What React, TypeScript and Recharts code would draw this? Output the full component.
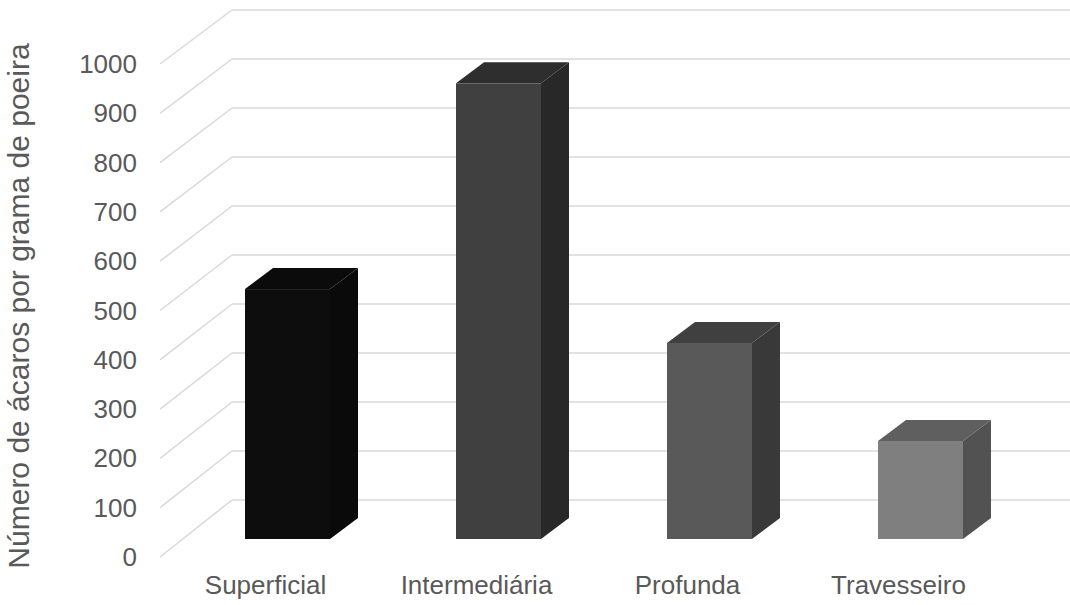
import React from 'react';
import { BarChart, Bar, XAxis, YAxis, CartesianGrid } from 'recharts';

const categories = ['Superficial', 'Intermediária', 'Profunda', 'Travesseiro'];
const values = [510, 930, 400, 200];
const yTicks = [0, 100, 200, 300, 400, 500, 600, 700, 800, 900, 1000];
const yTitle = 'Número de ácaros por grama de poeira';

const frontColors = ['#0d0d0d', '#404040', '#595959', '#7f7f7f'];
const sideColors = ['#0a0a0a', '#282828', '#393939', '#525252'];
const topColors = ['#0b0b0b', '#2e2e2e', '#404040', '#5f5f5f'];

const data = categories.map((name, i) => ({ name, value: values[i] }));

const W = 1070;
const H = 605;
const PLOT_TOP = 49;
const PLOT_BOTTOM = 539;
const DX = 28;
const DY = 21;
const FRONT_SHIFT = 18;
const BACK_SHIFT = 39;
const GRID = '#d9d9d9';
const TEXT = '#595959';
const FONT = '"Liberation Sans", Arial, sans-serif';

const Box = (props: any) => {
  const { x, y, width, height, index } = props;
  const i = index ?? 0;
  return (
    <g>
      <polygon
        points={`${x},${y} ${x + DX},${y - DY} ${x + width + DX},${y - DY} ${x + width},${y}`}
        fill={topColors[i]}
      />
      <polygon
        points={`${x + width},${y} ${x + width + DX},${y - DY} ${x + width + DX},${y + height - DY} ${x + width},${y + height}`}
        fill={sideColors[i]}
      />
      <rect x={x} y={y} width={width} height={height} fill={frontColors[i]} />
    </g>
  );
};

const YTick = (props: any) => {
  const { y, payload } = props;
  const front = PLOT_BOTTOM + FRONT_SHIFT + (y - PLOT_BOTTOM) * (493 / 490);
  const back = y - BACK_SHIFT;
  return (
    <g>
      <line x1={160} y1={front} x2={232} y2={back} stroke={GRID} strokeWidth={1.5} />
      <text
        x={137}
        y={front}
        textAnchor="end"
        dominantBaseline="central"
        fill={TEXT}
        fontSize={26}
        fontFamily={FONT}
      >
        {payload.value}
      </text>
    </g>
  );
};

const XTick = (props: any) => {
  const { x, payload } = props;
  return (
    <text x={x - 22} y={594} textAnchor="middle" fill={TEXT} fontSize={26} fontFamily={FONT}>
      {payload.value}
    </text>
  );
};

const GridLine = (props: any) => {
  const yy = props.y1 - BACK_SHIFT;
  return (
    <line
      key={`gl-${props.index}`}
      x1={232}
      x2={W}
      y1={yy}
      y2={yy}
      stroke={GRID}
      strokeWidth={1.5}
    />
  );
};

const YTitle = () => (
  <text
    x={29}
    y={306}
    transform="rotate(-90 29 306)"
    textAnchor="middle"
    fill={TEXT}
    fontSize={30}
    fontFamily={FONT}
  >
    {yTitle}
  </text>
);

export default function App() {
  return (
    <div style={{ position: 'absolute', left: 0, top: 0, width: W, height: H, background: '#fff' }}>
      <BarChart
        width={W}
        height={H}
        data={data}
        margin={{ top: PLOT_TOP, right: 44, bottom: 0, left: 0 }}
        barSize={85}
      >
        <CartesianGrid vertical={false} horizontal={GridLine} />
        <XAxis
          dataKey="name"
          axisLine={false}
          tickLine={false}
          height={H - PLOT_BOTTOM}
          tick={XTick}
          interval={0}
        />
        <YAxis
          domain={[0, 1000]}
          ticks={yTicks}
          interval={0}
          axisLine={false}
          tickLine={false}
          width={182}
          tick={YTick}
          label={{ content: YTitle }}
        />
        <Bar dataKey="value" shape={Box} isAnimationActive={false} />
      </BarChart>
    </div>
  );
}
